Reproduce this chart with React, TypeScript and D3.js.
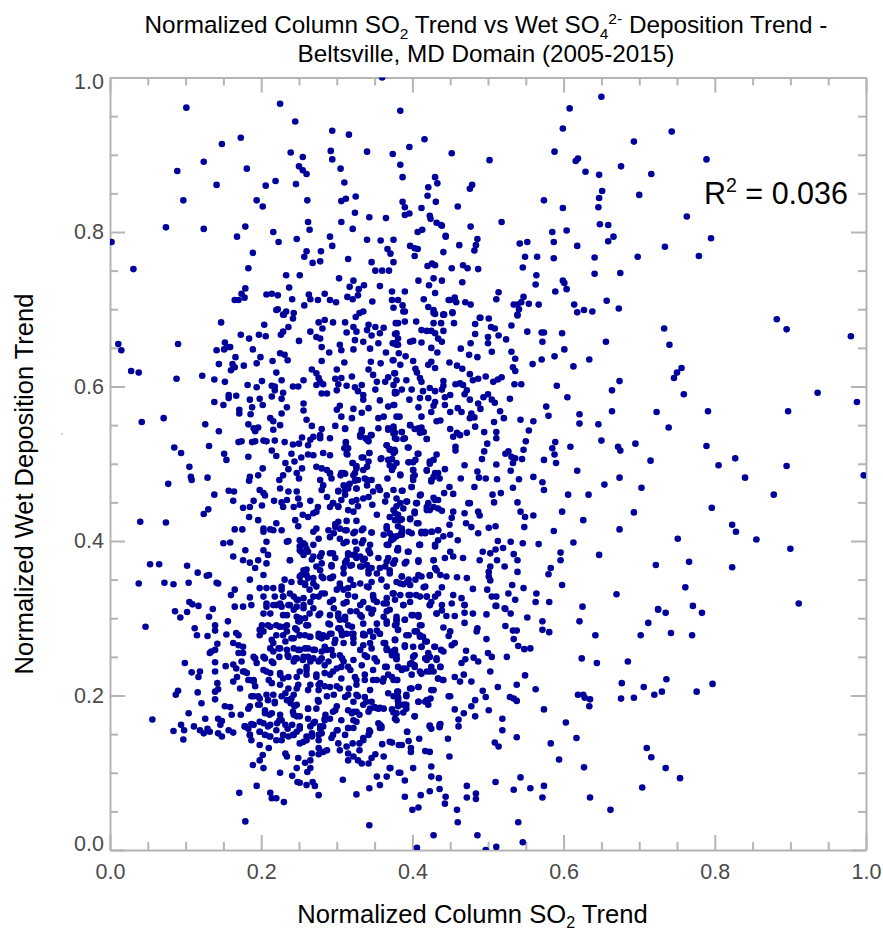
import React, { useEffect, useRef } from 'react';
import * as d3 from 'd3';

type Pt = [number, number];

const majorTicks = [0, 0.2, 0.4, 0.6, 0.8, 1.0];
const minorTicks = [0.05, 0.1, 0.15, 0.25, 0.3, 0.35, 0.45, 0.5, 0.55, 0.65, 0.7, 0.75, 0.85, 0.9, 0.95];

// values, one list per part of the plot
const upperLeft: Pt[] = [[.360,1],[.101,.961],[.225,.966],[.245,.943],[.294,.931],[.316,.926],[.384,.957],[.173,.922],[.148,.914],[.416,.920],[.396,.910],[.340,.904],[.292,.905],[.239,.903],[.255,.897],[.374,.901],[.294,.894],[.124,.891],[.089,.879],[.181,.882],[.250,.885],[.255,.880],[.260,.875],[.305,.882],[.384,.887],[.387,.871],[.310,.864],[.141,.861],[.206,.860],[.219,.866],[.246,.862],[.430,.871],[.433,.863],[.421,.858],[.420,.847],[.097,.841],[.194,.841],[.202,.833],[.261,.841],[.306,.840],[.312,.843],[.325,.846],[.387,.839],[.390,.832],[.390,.822],[.396,.824],[.412,.831],[.431,.839],[.324,.825],[.343,.819],[.365,.818],[.423,.821],[.424,.817],[.432,.812],[.438,.809],[.262,.813],[.306,.813],[.074,.806],[.124,.804],[.179,.807],[.264,.803],[.321,.804],[.413,.803],[.407,.800],[.216,.800],[.002,.787],[.168,.794],[.223,.787],[.247,.791],[.291,.794],[.294,.782],[.340,.790],[.358,.789],[.375,.790],[.444,.795],[.397,.782],[.403,.779],[.407,.778],[.367,.778],[.371,.772],[.441,.774],[.189,.773],[.260,.775],[.279,.775],[.257,.768],[.315,.765],[.346,.761],[.268,.760],[.278,.762],[.375,.761],[.403,.769],[.420,.756],[.426,.759],[.430,.757],[.031,.752],[.183,.753],[.351,.750],[.360,.750],[.369,.750],[.233,.744],[.251,.744],[.303,.740],[.322,.737],[.408,.737],[.428,.740],[.439,.737],[.422,.731],[.237,.728],[.317,.729],[.336,.731],[.329,.726],[.357,.730],[.179,.727],[.373,.723],[.390,.723],[.430,.721],[.207,.719],[.214,.720],[.222,.718],[.174,.720],[.165,.712],[.170,.712],[.178,.715],[.241,.713],[.263,.719],[.265,.713],[.284,.720],[.275,.712],[.291,.712],[.299,.709],[.314,.716],[.321,.713],[.328,.718],[.347,.710],[.373,.712],[.381,.712],[.415,.713],[.257,.705],[.387,.705],[.421,.703],[.428,.699],[.375,.702],[.390,.697],[.222,.700],[.233,.697],[.230,.693],[.243,.695],[.335,.697],[.330,.695],[.325,.690],[.441,.693],[.430,.694],[.448,.712]];

const upperRight: Pt[] = [[.650,.975],[.608,.960],[.599,.934],[.743,.930],[.693,.917],[.588,.904],[.452,.902],[.502,.893],[.789,.894],[.619,.895],[.616,.892],[.676,.885],[.629,.878],[.647,.874],[.716,.875],[.651,.853],[.479,.861],[.476,.856],[.700,.848],[.647,.844],[.574,.841],[.460,.833],[.599,.831],[.646,.832],[.763,.820],[.518,.813],[.648,.810],[.659,.809],[.477,.807],[.439,.808],[.585,.800],[.604,.802],[.444,.794],[.486,.791],[.666,.794],[.795,.792],[.659,.788],[.542,.785],[.552,.787],[.587,.787],[.462,.783],[.484,.783],[.618,.782],[.734,.781],[.482,.776],[.779,.769],[.549,.768],[.565,.768],[.587,.766],[.641,.767],[.698,.768],[.452,.753],[.467,.757],[.473,.753],[.487,.752],[.546,.754],[.641,.746],[.675,.747],[.564,.744],[.466,.735],[.563,.732],[.599,.737],[.601,.734],[.604,.726],[.589,.723],[.514,.722],[.547,.716],[.450,.712],[.456,.715],[.458,.709],[.470,.709],[.477,.706],[.511,.713],[.534,.706],[.539,.706],[.544,.709],[.554,.707],[.567,.706],[.614,.706],[.657,.711],[.673,.701],[.541,.700],[.539,.693],[.618,.696],[.627,.699],[.638,.697],[.442,.693],[.453,.696],[.489,.689],[.501,.688]];

const farRight: Pt[] = [[.882,.687],[.895,.674],[.980,.665],[.791,.568],[.897,.568],[.936,.592],[.988,.580],[.789,.523],[.827,.507],[.805,.498],[.895,.497],[.840,.482],[.997,.485],[.878,.460],[.796,.443],[.823,.421],[.828,.412],[.855,.402],[.900,.390],[.823,.366],[.733,.675],[.740,.654],[.756,.624],[.750,.618],[.746,.611],[.759,.590],[.723,.567],[.739,.547],[.695,.526],[.715,.504],[.703,.469],[.693,.437],[.751,.403],[.766,.373],[.722,.369],[.761,.340],[.725,.312],[.670,.331],[.647,.382],[.674,.415],[.674,.482],[.654,.473],[.672,.522],[.675,.517],[.650,.530],[.664,.568],[.646,.551],[.621,.564],[.621,.552],[.664,.595],[.674,.607],[.656,.658],[.634,.635],[.613,.626],[.601,.648],[.598,.669],[.571,.670],[.574,.670],[.572,.658],[.588,.639],[.571,.635],[.559,.629],[.552,.671],[.591,.601],[.605,.586],[.577,.574],[.580,.562],[.560,.555],[.543,.557],[.554,.543],[.609,.522],[.589,.528],[.585,.520],[.588,.512],[.590,.501],[.574,.505],[.618,.491],[.560,.483],[.572,.476],[.574,.466],[.606,.460],[.633,.460],[.598,.438],[.626,.427],[.587,.413],[.613,.398],[.567,.396],[.596,.385],[.596,.375],[.583,.365],[.580,.357],[.598,.343],[.564,.332],[.563,.321],[.581,.321],[.625,.315]];

const midCentre: Pt[] = [[.531,.679],[.539,.692],[.504,.677],[.509,.675],[.514,.666],[.524,.661],[.490,.689],[.483,.681],[.483,.668],[.500,.664],[.500,.656],[.477,.656],[.464,.649],[.475,.641],[.486,.638],[.505,.645],[.531,.645],[.536,.636],[.533,.625],[.536,.620],[.449,.631],[.459,.627],[.466,.623],[.476,.616],[.480,.608],[.487,.610],[.497,.613],[.518,.612],[.513,.609],[.507,.606],[.535,.603],[.544,.603],[.529,.584],[.457,.603],[.463,.604],[.467,.602],[.472,.595],[.469,.590],[.441,.607],[.441,.601],[.476,.583],[.487,.578],[.494,.586],[.500,.590],[.505,.583],[.509,.579],[.490,.571],[.516,.568],[.521,.559],[.508,.554],[.478,.565],[.476,.559],[.482,.560],[.460,.572],[.465,.567],[.450,.567],[.511,.541],[.511,.533],[.495,.541],[.499,.526],[.483,.548],[.472,.540],[.463,.537],[.450,.545],[.454,.535],[.459,.540],[.550,.529],[.547,.518],[.545,.506],[.536,.507],[.531,.509],[.527,.516],[.523,.513],[.533,.501],[.495,.516],[.492,.506],[.511,.499],[.530,.491],[.541,.480],[.486,.490],[.488,.482],[.497,.481],[.512,.480],[.533,.469],[.482,.470],[.464,.481],[.469,.498],[.457,.522],[.457,.517],[.517,.462],[.506,.460],[.508,.450],[.539,.450],[.543,.438],[.549,.431],[.560,.433],[.548,.418],[.510,.419],[.501,.417],[.487,.410],[.487,.438],[.489,.433],[.469,.436],[.474,.449],[.476,.449],[.454,.438],[.452,.430],[.449,.421],[.471,.423],[.478,.418],[.530,.399],[.546,.397],[.513,.400],[.520,.391],[.510,.389],[.503,.384],[.493,.386],[.534,.383],[.539,.375],[.512,.375],[.522,.367],[.503,.367],[.501,.360],[.501,.354],[.503,.349],[.539,.360],[.489,.375],[.467,.378],[.459,.353],[.472,.352],[.480,.338],[.499,.337],[.505,.328],[.511,.328],[.532,.343],[.527,.332],[.536,.324],[.547,.339],[.511,.316],[.522,.313],[.388,.697],[.428,.695],[.441,.693],[.453,.695],[.378,.682],[.390,.684],[.405,.684],[.428,.682],[.438,.682],[.455,.682],[.412,.673],[.419,.672],[.425,.672],[.430,.669],[.441,.672],[.377,.668],[.381,.662],[.378,.656],[.374,.656],[.397,.658],[.401,.659],[.412,.657],[.434,.662],[.439,.658],[.425,.650],[.433,.644],[.379,.654],[.382,.643],[.391,.639],[.374,.634],[.384,.628],[.401,.633],[.404,.623],[.406,.618],[.425,.632],[.421,.628],[.430,.624],[.377,.617],[.410,.611],[.412,.606],[.392,.608],[.379,.608],[.375,.602],[.386,.596],[.399,.596],[.377,.591],[.414,.594],[.423,.598],[.430,.594],[.439,.596],[.450,.589],[.443,.586],[.410,.585],[.421,.585],[.396,.583],[.376,.576],[.430,.580],[.428,.575],[.408,.573],[.443,.576],[.425,.567],[.412,.561],[.383,.561],[.437,.556],[.432,.555],[.397,.550],[.403,.545],[.412,.547],[.410,.540],[.375,.545],[.386,.541],[.377,.533],[.390,.533],[.419,.532],[.395,.521],[.376,.518],[.407,.513],[.432,.512],[.428,.505],[.423,.500],[.419,.491],[.395,.502],[.404,.505],[.443,.493],[.375,.496],[.384,.485],[.401,.492],[.401,.483],[.430,.488],[.425,.479],[.436,.481],[.399,.470],[.386,.465],[.411,.460],[.449,.470],[.454,.461],[.442,.462],[.428,.456],[.434,.453],[.421,.449],[.406,.449],[.392,.451],[.379,.445],[.388,.442],[.419,.440],[.428,.444],[.439,.439],[.403,.438],[.397,.428],[.377,.436],[.384,.427],[.386,.416],[.408,.423],[.412,.412],[.425,.412],[.434,.414],[.417,.410],[.395,.412],[.384,.408],[.372,.401],[.450,.408],[.441,.406],[.434,.401],[.430,.393],[.460,.401],[.410,.395],[.381,.391],[.395,.386],[.450,.386],[.443,.378],[.454,.380],[.428,.375],[.408,.375],[.392,.373],[.375,.371],[.430,.365],[.437,.356],[.445,.354],[.423,.355],[.412,.354],[.386,.354],[.395,.350],[.404,.350],[.388,.344],[.415,.340],[.439,.340],[.375,.332],[.384,.330],[.397,.330],[.405,.330],[.419,.328],[.430,.328],[.454,.330],[.465,.326],[.469,.317],[.423,.317],[.439,.317],[.452,.319],[.388,.317]];

const midLeft: Pt[] = [[.011,.655],[.015,.647],[.028,.620],[.038,.618],[.088,.610],[.090,.655],[.042,.554],[.071,.559],[.085,.521],[.094,.514],[.105,.496],[.107,.483],[.108,.479],[.077,.474],[.129,.482],[.040,.425],[.074,.424],[.053,.370],[.065,.370],[.038,.345],[.072,.346],[.084,.344],[.104,.346],[.102,.368],[.116,.359],[.128,.355],[.131,.356],[.141,.346],[.143,.345],[.105,.321],[.109,.318],[.117,.316],[.136,.312],[.160,.330],[.165,.337],[.185,.350],[.185,.327],[.147,.683],[.141,.647],[.152,.657],[.155,.651],[.159,.651],[.151,.648],[.204,.680],[.173,.667],[.184,.662],[.197,.667],[.206,.665],[.189,.648],[.166,.638],[.144,.629],[.162,.629],[.165,.625],[.160,.621],[.177,.627],[.199,.638],[.194,.630],[.215,.633],[.225,.643],[.231,.641],[.235,.634],[.250,.659],[.220,.618],[.229,.693],[.242,.688],[.220,.699],[.236,.677],[.229,.671],[.226,.667],[.276,.683],[.284,.686],[.295,.683],[.281,.675],[.265,.671],[.273,.664],[.278,.662],[.311,.683],[.322,.677],[.313,.670],[.326,.671],[.324,.660],[.304,.654],[.306,.647],[.322,.648],[.335,.658],[.342,.680],[.351,.677],[.362,.676],[.340,.673],[.346,.666],[.357,.669],[.381,.682],[.379,.669],[.375,.656],[.355,.656],[.344,.649],[.365,.644],[.381,.654],[.280,.651],[.290,.644],[.280,.633],[.310,.631],[.375,.634],[.345,.632],[.358,.630],[.342,.622],[.348,.615],[.353,.606],[.364,.606],[.368,.612],[.376,.617],[.267,.622],[.273,.617],[.276,.611],[.273,.602],[.282,.603],[.278,.606],[.300,.622],[.256,.608],[.242,.600],[.249,.600],[.227,.608],[.201,.607],[.214,.601],[.218,.600],[.194,.599],[.182,.602],[.152,.606],[.138,.609],[.122,.614],[.298,.610],[.302,.603],[.306,.611],[.320,.613],[.313,.601],[.324,.599],[.333,.602],[.328,.594],[.335,.589],[.335,.583],[.351,.596],[.357,.582],[.342,.572],[.377,.593],[.375,.576],[.368,.574],[.379,.592],[.287,.591],[.280,.591],[.300,.595],[.229,.592],[.218,.595],[.214,.587],[.227,.584],[.256,.578],[.256,.569],[.138,.580],[.150,.576],[.157,.585],[.157,.589],[.167,.588],[.185,.583],[.198,.584],[.202,.576],[.188,.573],[.171,.570],[.171,.565],[.186,.564],[.212,.559],[.216,.555],[.227,.565],[.234,.573],[.126,.551],[.183,.551],[.190,.546],[.196,.547],[.192,.542],[.216,.544],[.225,.550],[.144,.542],[.260,.557],[.267,.549],[.280,.545],[.298,.549],[.311,.546],[.278,.533],[.300,.570],[.304,.575],[.322,.571],[.306,.561],[.320,.559],[.333,.566],[.355,.559],[.362,.561],[.379,.561],[.355,.546],[.368,.546],[.377,.540],[.375,.548],[.333,.544],[.331,.537],[.338,.533],[.346,.537],[.342,.529],[.174,.529],[.170,.528],[.188,.528],[.192,.529],[.203,.530],[.207,.529],[.218,.530],[.231,.528],[.242,.525],[.250,.526],[.254,.534],[.262,.524],[.265,.531],[.269,.535],[.291,.533],[.278,.537],[.312,.528],[.315,.520],[.313,.513],[.366,.524],[.370,.518],[.377,.516],[.379,.501],[.368,.505],[.359,.507],[.131,.523],[.151,.513],[.154,.505],[.183,.509],[.214,.517],[.220,.510],[.240,.513],[.253,.508],[.262,.512],[.269,.511],[.282,.514],[.291,.511],[.343,.514],[.333,.508],[.321,.501],[.326,.497],[.340,.496],[.232,.501],[.244,.503],[.236,.493],[.254,.494],[.247,.488],[.229,.485],[.250,.481],[.273,.496],[.280,.494],[.287,.492],[.291,.488],[.293,.481],[.278,.479],[.282,.472],[.280,.466],[.287,.457],[.295,.449],[.302,.444],[.306,.453],[.311,.466],[.302,.464],[.309,.488],[.305,.485],[.324,.488],[.328,.479],[.315,.472],[.326,.468],[.337,.481],[.202,.494],[.196,.485],[.185,.483],[.184,.478],[.224,.479],[.225,.468],[.236,.464],[.247,.464],[.249,.455],[.157,.465],[.164,.464],[.198,.466],[.203,.462],[.205,.459],[.138,.460],[.163,.452],[.217,.452],[.227,.450],[.234,.453],[.229,.444],[.243,.444],[.251,.447],[.190,.452],[.185,.444],[.176,.443],[.201,.446],[.265,.452],[.275,.444],[.291,.444],[.130,.441],[.124,.435],[.184,.431],[.196,.427],[.220,.423],[.216,.414],[.227,.414],[.203,.416],[.212,.415],[.245,.427],[.249,.419],[.255,.434],[.262,.431],[.269,.436],[.273,.438],[.165,.415],[.175,.415],[.203,.412],[.150,.397],[.159,.398],[.273,.416],[.269,.412],[.251,.401],[.256,.397],[.276,.403],[.289,.414],[.302,.425],[.298,.418],[.313,.414],[.324,.412],[.333,.414],[.346,.411],[.291,.405],[.313,.399],[.333,.397],[.326,.389],[.309,.397],[.366,.419],[.377,.427],[.370,.410],[.375,.403],[.368,.395],[.380,.388],[.236,.400],[.207,.399],[.203,.388],[.209,.382],[.179,.388],[.163,.380],[.176,.375],[.185,.372],[.196,.375],[.192,.365],[.203,.356],[.207,.371],[.238,.375],[.251,.388],[.256,.382],[.260,.390],[.269,.380],[.278,.380],[.280,.384],[.295,.384],[.315,.382],[.322,.382],[.326,.378],[.311,.372],[.318,.368],[.335,.375],[.344,.384],[.333,.367],[.342,.362],[.293,.367],[.273,.367],[.260,.363],[.251,.354],[.240,.347],[.368,.378],[.375,.371],[.364,.367],[.370,.358],[.353,.358],[.359,.350],[.346,.347],[.280,.354],[.291,.352],[.262,.352],[.258,.343],[.269,.345],[.295,.354],[.304,.341],[.315,.339],[.340,.341],[.348,.328],[.366,.341],[.375,.332],[.198,.339],[.207,.339],[.216,.339],[.227,.341],[.203,.328],[.218,.328],[.229,.328],[.207,.319],[.220,.317],[.238,.332],[.247,.324],[.256,.326],[.269,.328],[.280,.332],[.295,.324],[.309,.319],[.324,.328],[.335,.321],[.353,.321],[.366,.319],[.377,.324],[.165,.315],[.176,.315],[.187,.317]];

const lowLeft: Pt[] = [[.047,.289],[.086,.309],[.093,.301],[.102,.308],[.131,.302],[.112,.287],[.115,.278],[.129,.277],[.139,.291],[.139,.284],[.156,.296],[.154,.279],[.167,.281],[.170,.278],[.142,.267],[.132,.255],[.134,.257],[.139,.259],[.163,.268],[.170,.265],[.176,.263],[.170,.255],[.176,.255],[.174,.244],[.099,.242],[.108,.230],[.119,.231],[.117,.224],[.139,.243],[.139,.231],[.153,.238],[.163,.240],[.167,.235],[.142,.216],[.143,.208],[.139,.205],[.168,.224],[.163,.218],[.172,.209],[.176,.231],[.183,.220],[.190,.220],[.192,.212],[.090,.206],[.087,.201],[.116,.204],[.121,.190],[.139,.195],[.104,.177],[.056,.169],[.126,.170],[.152,.186],[.159,.185],[.161,.175],[.173,.175],[.143,.170],[.148,.167],[.146,.162],[.094,.162],[.084,.154],[.098,.155],[.097,.143],[.111,.160],[.119,.155],[.124,.151],[.129,.157],[.132,.153],[.143,.151],[.148,.147],[.157,.155],[.163,.152],[.178,.160],[.183,.157],[.187,.163],[.185,.149],[.187,.142],[.198,.136],[.210,.132],[.202,.123],[.198,.116],[.189,.110],[.203,.106],[.194,.083],[.171,.074],[.179,.037],[.212,.074],[.214,.067],[.220,.067],[.230,.062],[.225,.100],[.232,.125],[.234,.121],[.241,.096],[.248,.088],[.251,.087],[.249,.119],[.247,.106],[.258,.113],[.265,.116],[.265,.106],[.261,.101],[.260,.084],[.268,.088],[.271,.083],[.276,.071],[.308,.091],[.326,.072],[.343,.080],[.343,.032],[.353,.095],[.357,.084],[.366,.095],[.371,.106],[.342,.112],[.346,.119],[.351,.124],[.362,.121],[.360,.137],[.370,.140],[.382,.136],[.382,.100],[.315,.116],[.315,.125],[.322,.121],[.328,.116],[.333,.112],[.313,.134],[.321,.138],[.330,.138],[.330,.129],[.335,.142],[.302,.138],[.304,.129],[.293,.145],[.276,.142],[.276,.132],[.276,.124],[.282,.127],[.287,.129],[.267,.125],[.251,.138],[.256,.140],[.260,.142],[.267,.147],[.276,.149],[.227,.142],[.236,.147],[.243,.149],[.247,.153],[.198,.153],[.205,.149],[.212,.147],[.220,.142],[.203,.164],[.212,.162],[.221,.164],[.232,.162],[.241,.162],[.251,.160],[.262,.170],[.269,.164],[.278,.160],[.265,.160],[.285,.175],[.291,.170],[.301,.155],[.295,.149],[.311,.149],[.315,.158],[.326,.166],[.322,.158],[.320,.177],[.330,.175],[.344,.153],[.335,.145],[.357,.158],[.355,.164],[.359,.160],[.190,.199],[.196,.199],[.207,.201],[.216,.201],[.218,.190],[.234,.194],[.232,.203],[.243,.201],[.183,.183],[.198,.188],[.205,.177],[.211,.175],[.224,.168],[.242,.179],[.247,.173],[.239,.190],[.244,.186],[.181,.229],[.210,.220],[.212,.229],[.225,.227],[.229,.222],[.203,.233],[.192,.248],[.203,.250],[.214,.244],[.190,.250],[.194,.242],[.224,.250],[.235,.252],[.247,.248],[.255,.246],[.262,.250],[.269,.248],[.276,.244],[.243,.244],[.216,.257],[.225,.261],[.234,.259],[.249,.259],[.258,.261],[.269,.259],[.280,.257],[.293,.259],[.304,.252],[.309,.244],[.203,.283],[.198,.278],[.212,.289],[.220,.291],[.201,.291],[.207,.315],[.216,.317],[.227,.315],[.238,.317],[.247,.315],[.256,.317],[.203,.306],[.212,.306],[.229,.304],[.247,.302],[.258,.300],[.269,.313],[.278,.306],[.225,.289],[.234,.283],[.245,.287],[.251,.296],[.262,.291],[.243,.274],[.251,.278],[.216,.268],[.264,.276],[.276,.276],[.287,.276],[.298,.272],[.291,.292],[.302,.302],[.311,.298],[.304,.287],[.320,.289],[.313,.280],[.322,.274],[.335,.280],[.333,.302],[.348,.311],[.362,.302],[.370,.311],[.379,.298],[.353,.284],[.366,.293],[.377,.272],[.362,.268],[.366,.259],[.379,.252],[.344,.268],[.331,.259],[.340,.250],[.353,.244],[.366,.237],[.260,.237],[.273,.227],[.278,.216],[.295,.231],[.306,.237],[.318,.233],[.326,.220],[.337,.227],[.348,.220],[.362,.222],[.375,.220],[.381,.237],[.251,.231],[.260,.227],[.247,.209],[.262,.207],[.276,.207],[.291,.211],[.304,.209],[.315,.201],[.328,.199],[.339,.192],[.350,.185],[.362,.183],[.379,.177],[.375,.199],[.381,.194],[.275,.194],[.273,.183],[.262,.183],[.298,.181],[.315,.181],[.326,.179],[.344,.183],[.355,.183]];

const lowRight: Pt[] = [[.911,.319],[.771,.316],[.783,.307],[.725,.311],[.735,.307],[.712,.294],[.702,.278],[.742,.281],[.770,.278],[.685,.244],[.677,.216],[.706,.211],[.736,.221],[.797,.215],[.776,.205],[.730,.205],[.720,.201],[.693,.197],[.676,.196],[.624,.248],[.644,.242],[.621,.296],[.642,.278],[.572,.296],[.572,.285],[.581,.282],[.552,.301],[.619,.201],[.626,.201],[.628,.197],[.635,.195],[.634,.186],[.563,.208],[.574,.182],[.603,.165],[.617,.145],[.583,.138],[.594,.117],[.627,.107],[.635,.068],[.662,.052],[.710,.132],[.716,.120],[.735,.106],[.754,.093],[.704,.081],[.538,.146],[.519,.170],[.519,.155],[.509,.139],[.514,.134],[.549,.226],[.538,.214],[.513,.211],[.525,.250],[.556,.261],[.548,.260],[.540,.264],[.534,.273],[.538,.284],[.533,.284],[.523,.290],[.530,.306],[.523,.312],[.498,.273],[.498,.305],[.510,.316],[.493,.206],[.497,.198],[.501,.181],[.529,.198],[.534,.196],[.538,.193],[.503,.231],[.478,.218],[.500,.255],[.505,.250],[.487,.244],[.471,.258],[.481,.249],[.470,.247],[.465,.242],[.486,.287],[.485,.283],[.450,.283],[.448,.277],[.456,.268],[.452,.265],[.441,.257],[.441,.288],[.456,.303],[.469,.307],[.480,.306],[.469,.294],[.445,.303],[.432,.306],[.439,.310],[.423,.317],[.469,.317],[.412,.291],[.417,.270],[.429,.263],[.410,.276],[.403,.283],[.401,.304],[.408,.304],[.390,.298],[.379,.298],[.377,.291],[.381,.285],[.392,.278],[.377,.272],[.390,.263],[.401,.263],[.412,.263],[.377,.259],[.373,.252],[.401,.250],[.417,.248],[.423,.250],[.432,.246],[.379,.247],[.399,.242],[.403,.237],[.392,.235],[.386,.233],[.419,.231],[.425,.237],[.437,.237],[.428,.231],[.412,.228],[.373,.224],[.380,.220],[.399,.227],[.434,.222],[.440,.220],[.456,.224],[.463,.218],[.468,.227],[.399,.209],[.408,.211],[.425,.207],[.380,.205],[.392,.199],[.381,.196],[.450,.199],[.417,.192],[.424,.196],[.408,.192],[.390,.188],[.381,.186],[.392,.183],[.375,.178],[.379,.168],[.388,.178],[.403,.173],[.456,.182],[.468,.177],[.483,.194],[.478,.186],[.483,.173],[.461,.169],[.461,.160],[.437,.163],[.436,.159],[.423,.161],[.425,.157],[.393,.153],[.409,.144],[.447,.144],[.373,.139],[.386,.136],[.395,.141],[.398,.132],[.398,.127],[.417,.128],[.423,.127],[.449,.121],[.370,.106],[.401,.106],[.425,.108],[.384,.100],[.390,.090],[.425,.095],[.435,.093],[.436,.079],[.423,.076],[.411,.071],[.390,.069],[.444,.069],[.443,.060],[.472,.083],[.472,.068],[.484,.073],[.484,.066],[.510,.088],[.543,.094],[.534,.078],[.556,.080],[.574,.083],[.572,.068],[.400,.052],[.408,.055],[.459,.052],[.460,.036],[.540,.036],[.428,.019],[.486,.019],[.546,.010],[.511,.004],[.497,.000],[.406,.003]];

// second reading of the dense centre, from tighter crops
const coreUpper: Pt[] = [[.311,.545],[.333,.541],[.331,.535],[.340,.531],[.345,.537],[.368,.544],[.375,.539],[.386,.541],[.379,.532],[.388,.532],[.397,.550],[.408,.546],[.415,.541],[.419,.532],[.394,.521],[.312,.527],[.310,.520],[.314,.512],[.366,.524],[.370,.519],[.375,.514],[.343,.514],[.335,.508],[.342,.503],[.358,.506],[.373,.506],[.370,.498],[.373,.492],[.395,.502],[.401,.502],[.408,.513],[.321,.501],[.326,.494],[.335,.492],[.423,.503],[.419,.492],[.428,.483],[.434,.488],[.425,.477],[.401,.492],[.403,.485],[.401,.479],[.399,.470],[.384,.486],[.367,.481],[.291,.487],[.306,.488],[.311,.487],[.322,.485],[.324,.478],[.317,.474],[.340,.479],[.346,.479],[.340,.472],[.309,.472],[.315,.468],[.326,.468],[.302,.465],[.311,.460],[.355,.470],[.348,.464],[.357,.466],[.342,.457],[.375,.466],[.387,.465],[.366,.459],[.379,.455],[.384,.449],[.410,.459],[.393,.451],[.364,.451],[.320,.451],[.326,.453],[.335,.455],[.295,.449],[.302,.445],[.347,.447],[.315,.440],[.322,.438],[.328,.445],[.353,.434],[.375,.440],[.381,.434],[.405,.449],[.403,.436],[.419,.444],[.423,.440],[.430,.453],[.434,.442],[.370,.431],[.386,.428],[.397,.429],[.313,.426],[.326,.426],[.298,.422],[.304,.416],[.311,.414],[.296,.410],[.381,.419],[.386,.412],[.366,.416],[.362,.408],[.406,.423],[.417,.412],[.426,.412],[.434,.414],[.335,.416],[.322,.410],[.346,.411],[.379,.406],[.373,.406],[.386,.408],[.399,.410],[.412,.410],[.304,.403],[.324,.399],[.335,.401],[.366,.395],[.409,.395],[.344,.395]];

const coreMiddle: Pt[] = [[.234,.399],[.251,.393],[.258,.395],[.269,.395],[.253,.386],[.262,.386],[.267,.376],[.238,.375],[.278,.380],[.291,.384],[.298,.378],[.293,.369],[.280,.371],[.315,.384],[.324,.382],[.331,.380],[.313,.375],[.309,.365],[.320,.369],[.342,.388],[.337,.377],[.331,.367],[.340,.369],[.346,.365],[.342,.358],[.309,.358],[.355,.378],[.368,.395],[.381,.388],[.394,.386],[.410,.395],[.430,.395],[.366,.373],[.377,.375],[.390,.371],[.408,.373],[.428,.375],[.370,.362],[.357,.365],[.408,.356],[.423,.356],[.432,.362],[.256,.362],[.260,.356],[.269,.352],[.282,.352],[.293,.352],[.278,.362],[.231,.350],[.252,.347],[.253,.356],[.258,.345],[.273,.341],[.264,.337],[.386,.354],[.393,.347],[.384,.345],[.397,.343],[.379,.347],[.318,.350],[.304,.345],[.322,.343],[.331,.345],[.300,.337],[.309,.337],[.315,.330],[.342,.340],[.348,.330],[.349,.324],[.417,.341],[.410,.328],[.419,.328],[.434,.332],[.425,.321],[.227,.337],[.229,.328],[.225,.319],[.243,.328],[.249,.324],[.265,.321],[.284,.332],[.276,.328],[.374,.332],[.366,.326],[.362,.319],[.395,.330],[.397,.321],[.388,.317],[.331,.317],[.291,.321],[.313,.321],[.236,.317],[.243,.311],[.256,.313],[.264,.306],[.276,.304],[.296,.313],[.302,.306],[.318,.309],[.326,.309],[.342,.313],[.346,.306],[.366,.309],[.379,.302],[.399,.304],[.408,.302],[.432,.306],[.234,.304],[.251,.300],[.291,.304],[.304,.298],[.311,.302],[.331,.304],[.231,.289],[.247,.285],[.260,.291],[.289,.293],[.302,.287],[.315,.291],[.335,.293],[.353,.293],[.366,.296],[.379,.293],[.390,.298],[.410,.291],[.258,.278],[.291,.280],[.307,.278],[.320,.280],[.335,.278],[.357,.280],[.381,.285],[.406,.283],[.414,.276],[.344,.283],[.229,.278],[.276,.280]];

const coreLowLeft: Pt[] = [[.198,.285],[.209,.291],[.225,.289],[.234,.291],[.249,.296],[.260,.291],[.220,.278],[.214,.272],[.232,.270],[.240,.274],[.251,.278],[.265,.276],[.280,.274],[.212,.261],[.223,.261],[.243,.261],[.251,.259],[.262,.261],[.271,.259],[.287,.259],[.205,.248],[.216,.242],[.236,.250],[.245,.248],[.256,.250],[.265,.244],[.278,.246],[.289,.244],[.178,.231],[.207,.231],[.225,.229],[.236,.224],[.247,.224],[.260,.233],[.273,.224],[.284,.229],[.214,.216],[.185,.220],[.190,.218],[.225,.214],[.236,.209],[.249,.214],[.265,.214],[.276,.214],[.187,.199],[.198,.196],[.209,.194],[.218,.192],[.227,.199],[.240,.196],[.247,.188],[.262,.183],[.276,.192],[.185,.186],[.196,.188],[.205,.181],[.214,.177],[.225,.175],[.243,.175],[.198,.166],[.227,.168],[.251,.173],[.271,.166],[.284,.168],[.179,.160],[.190,.162],[.209,.160],[.220,.155],[.235,.157],[.251,.157],[.267,.151],[.278,.157],[.185,.149],[.198,.153],[.211,.147],[.229,.149],[.242,.149],[.260,.147]];

const coreLowRight: Pt[] = [[.282,.278],[.293,.280],[.306,.283],[.322,.280],[.337,.278],[.348,.276],[.357,.280],[.284,.263],[.297,.268],[.309,.268],[.322,.268],[.335,.265],[.346,.261],[.364,.268],[.377,.272],[.390,.265],[.395,.278],[.410,.278],[.280,.248],[.295,.252],[.307,.248],[.322,.246],[.337,.252],[.350,.248],[.366,.261],[.372,.257],[.379,.248],[.412,.263],[.419,.270],[.430,.263],[.284,.239],[.300,.235],[.315,.237],[.333,.239],[.348,.233],[.364,.237],[.403,.252],[.421,.255],[.419,.246],[.432,.248],[.438,.259],[.291,.227],[.306,.222],[.324,.224],[.337,.220],[.353,.220],[.368,.227],[.397,.241],[.403,.239],[.388,.235],[.410,.231],[.423,.231],[.437,.237],[.284,.212],[.300,.212],[.316,.209],[.326,.214],[.344,.207],[.361,.218],[.379,.220],[.434,.222],[.441,.220],[.296,.201],[.311,.198],[.326,.201],[.337,.198],[.346,.192],[.368,.203],[.381,.205],[.381,.198],[.397,.209],[.408,.211],[.428,.207],[.287,.199],[.300,.186],[.322,.192],[.335,.188],[.351,.184],[.373,.182],[.381,.192],[.392,.201],[.388,.188],[.408,.192],[.419,.194],[.421,.188],[.448,.199],[.295,.179],[.322,.179],[.342,.179],[.357,.184],[.377,.170],[.392,.188],[.403,.173],[.284,.170],[.306,.168],[.322,.168],[.357,.162],[.423,.160],[.436,.162],[.282,.160],[.300,.155],[.315,.158],[.343,.155],[.359,.158],[.280,.151],[.342,.149],[.393,.153]];

const points = [...upperLeft, ...upperRight, ...farRight, ...midCentre, ...midLeft, ...lowLeft, ...lowRight, ...coreUpper, ...coreMiddle, ...coreLowLeft, ...coreLowRight];

// plot box in the page
const margin = { top: 77.5, right: 17, bottom: 81, left: 110 };
const W = 883;
const H = 931;
const width = W - margin.left - margin.right;
const height = H - margin.top - margin.bottom;

const axisGray = '#b4b4b4';
const labelGray = '#4a4a4a';
const dotBlue = '#00009a';
const sans = '"Liberation Sans", Arial, sans-serif';

export default function App() {
  const ref = useRef<SVGGElement>(null);

  useEffect(() => {
    const g = d3.select(ref.current);
    g.selectAll('*').remove();

    const xScale = d3.scaleLinear().domain([0, 1]).range([0, width]);
    const yScale = d3.scaleLinear().domain([0, 1]).range([height, 0]);

    // frame ticks point inward on all four sides
    const fmt = (d: any) => d3.format('.1f')(d);
    const none = () => '';
    const axes = [
      { a: d3.axisBottom(xScale), t: `translate(0,${height})`, f: fmt, pad: 14 },
      { a: d3.axisTop(xScale), t: 'translate(0,0)', f: none, pad: 3 },
      { a: d3.axisLeft(yScale), t: 'translate(0,0)', f: fmt, pad: 6 },
      { a: d3.axisRight(yScale), t: `translate(${width},0)`, f: none, pad: 3 },
    ];
    axes.forEach(({ a, t, f, pad }) => {
      const major = g.append('g').attr('transform', t).call(
        (a as any).tickValues(majorTicks).tickSize(-15).tickSizeOuter(0).tickPadding(pad).tickFormat(f),
      );
      major.select('.domain').attr('stroke', axisGray).attr('stroke-width', 2);
      major.selectAll('.tick line').attr('stroke', axisGray).attr('stroke-width', 2);
      major.selectAll('.tick text').attr('fill', labelGray).style('font', `21.5px ${sans}`);
      const minor = g.append('g').attr('transform', t).call(
        (a as any).tickValues(minorTicks).tickSize(-8).tickSizeOuter(0).tickFormat(none),
      );
      minor.select('.domain').remove();
      minor.selectAll('.tick line').attr('stroke', axisGray).attr('stroke-width', 2);
    });

    // the end labels of the y axis sit a little inside the plot box in the reference
    const yLabels = g.selectAll('.tick text').filter(function () {
      return (this as SVGTextElement).getAttribute('text-anchor') !== 'middle' && d3.select((this as any).parentNode.parentNode).attr('text-anchor') === 'end';
    });
    yLabels.filter((d: any) => d === 1).attr('y', 4);
    yLabels.filter((d: any) => d === 0).attr('y', -6);

    g.append('g')
      .attr('clip-path', 'url(#plot-clip)')
      .selectAll('circle')
      .data(points)
      .join('circle')
      .attr('cx', (d) => xScale(d[0]))
      .attr('cy', (d) => yScale(d[1]))
      .attr('r', 3.3)
      .attr('fill', dotBlue);
  }, []);

  return (
    <svg width={W} height={H} style={{ position: 'absolute', left: 0, top: 0, background: '#fff' }} fontFamily={sans}>
      <defs>
        <clipPath id="plot-clip">
          <rect x={0} y={0} width={width} height={height} />
        </clipPath>
      </defs>
      <text x={486} y={33} textAnchor="middle" fontSize={24.3}>
        Normalized Column SO<tspan fontSize={15.5} dy={6}>2</tspan>
        <tspan dy={-6}> Trend vs Wet SO</tspan>
        <tspan fontSize={15.5} dy={6}>4</tspan>
        <tspan fontSize={15.5} dy={-15}>2-</tspan>
        <tspan dy={9}> Deposition Trend -</tspan>
      </text>
      <text x={486} y={62} textAnchor="middle" fontSize={24.3}>
        Beltsville, MD Domain (2005-2015)
      </text>
      <text transform="translate(33,484) rotate(-90)" textAnchor="middle" fontSize={25.5}>
        Normalized Wet Deposition Trend
      </text>
      <text x={472.5} y={923} textAnchor="middle" fontSize={25.6}>
        Normalized Column SO<tspan fontSize={16} dy={5}>2</tspan>
        <tspan dy={-5}> Trend</tspan>
      </text>
      <text x={704} y={204} fontSize={30.5}>
        R<tspan fontSize={19.5} dy={-12}>2</tspan>
        <tspan dy={12}> = 0.036</tspan>
      </text>
      <circle cx={62} cy={434} r={0.7} fill="#888" />
      <g ref={ref} transform={`translate(${margin.left},${margin.top})`} />
    </svg>
  );
}
